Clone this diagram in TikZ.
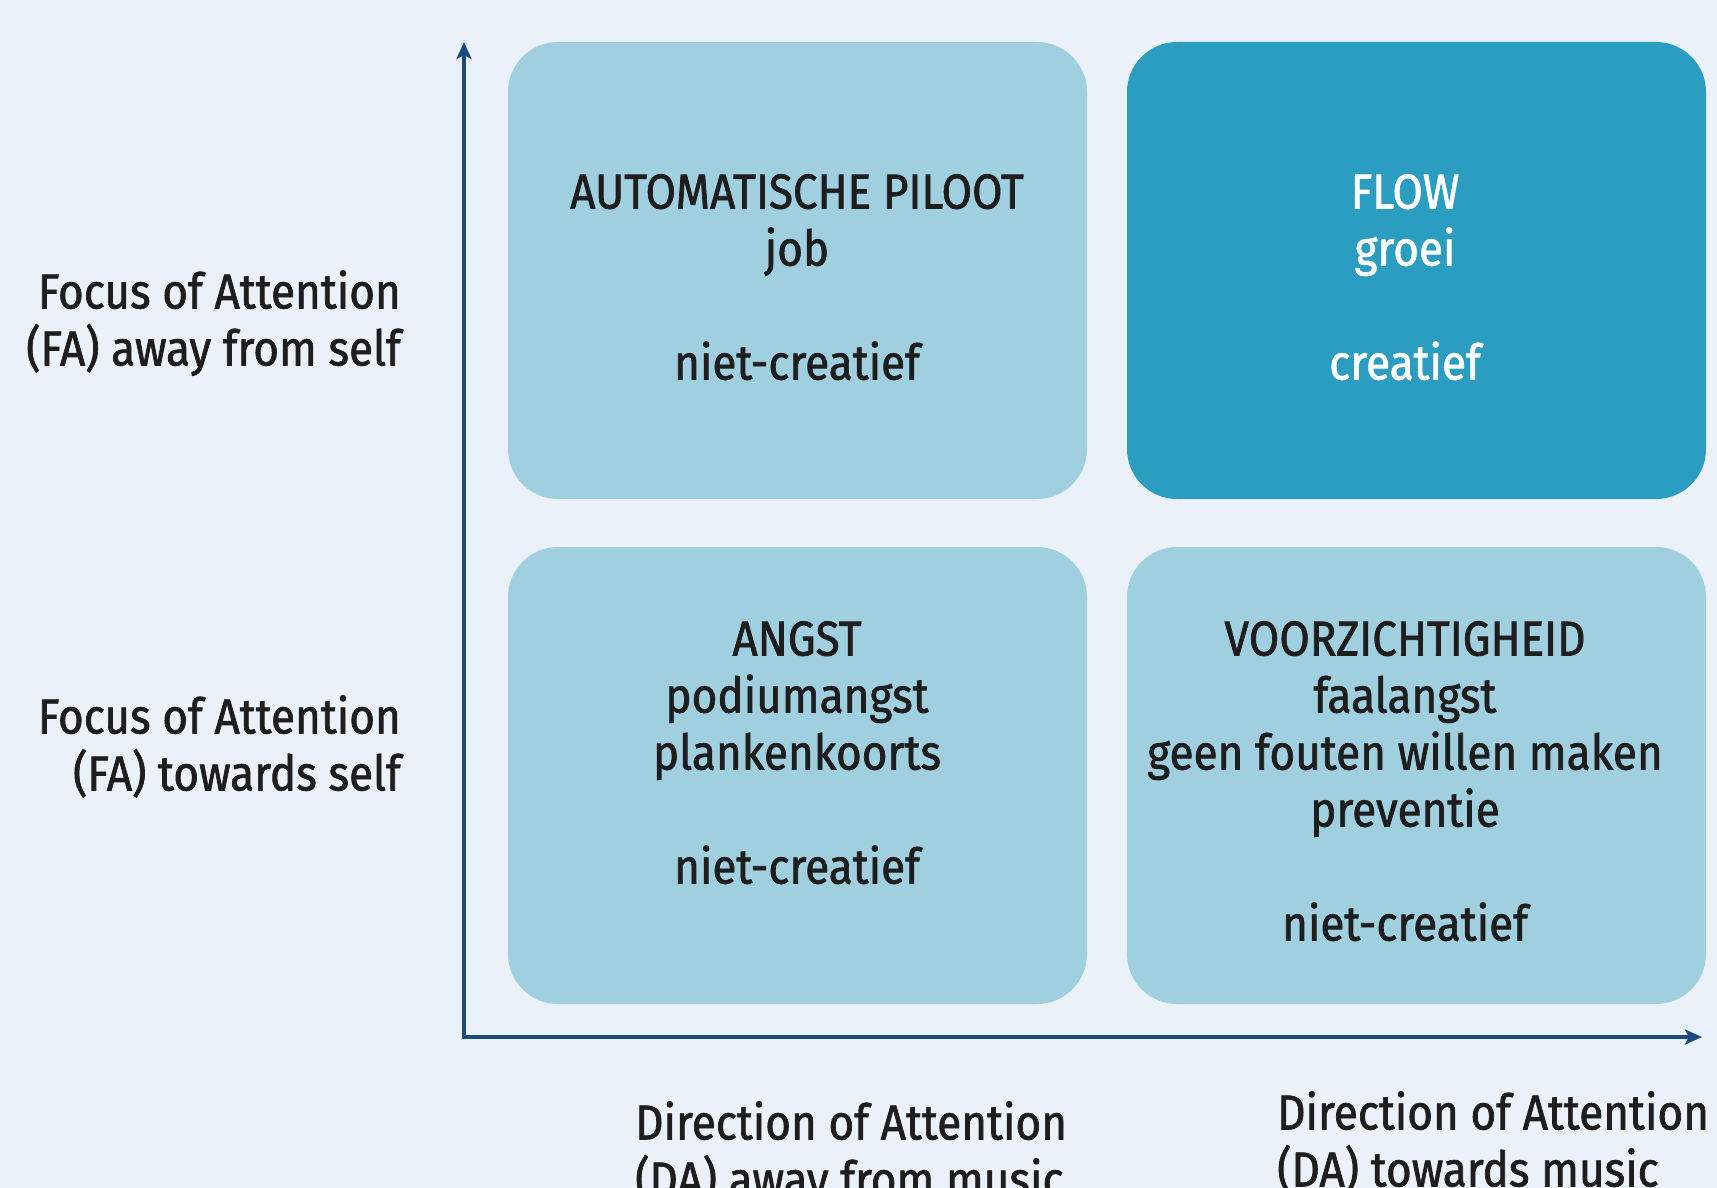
\documentclass[tikz,border=0pt]{standalone}
\usepackage{fontspec}
\setmainfont{Fira Sans}[FakeStretch=0.9, FakeBold=1.4]
\usetikzlibrary{arrows.meta}
\definecolor{bgcol}{HTML}{EAF1F8}
\definecolor{lightcol}{HTML}{A0CFE0}
\definecolor{darkcol}{HTML}{2A9DC0}
\definecolor{axiscol}{HTML}{1A4A80}
\definecolor{txtcol}{HTML}{1E1E1E}
\tikzset{
  quadbox/.style={minimum width=579pt, minimum height=457pt, rounded corners=50pt, inner sep=0pt, draw=none},
  lightbox/.style={quadbox, fill=lightcol},
  darkbox/.style={quadbox, fill=darkcol},
  boxtext/.style={font=\fontsize{49}{57}\selectfont, text=txtcol, align=center, inner sep=0pt, anchor=north},
  sidelabel/.style={font=\fontsize{49}{57}\selectfont, text=txtcol, inner sep=0pt},
  axisline/.style={draw=axiscol, line width=3.5pt, -{Stealth[length=17pt, width=15pt, inset=4pt]}}
}
\begin{document}
\begin{tikzpicture}[x=1pt, y=-1pt]
\fill[bgcol] (0,0) rectangle (1717,1188);
\useasboundingbox (0,0) rectangle (1717,1188);

\node[lightbox] (tl) at (797.5,270.5) {};
\node[darkbox]  (tr) at (1416.5,270.5) {};
\node[lightbox] (bl) at (797.5,775.5) {};
\node[lightbox] (br) at (1416.5,775.5) {};

\node[boxtext] (tltext) at (797,174) {AUTOMATISCHE PILOOT\\job\\[57pt]niet-creatief};
\node[boxtext, text=white] (trtext) at (1405,174) {FLOW\\groei\\[57pt]creatief};
\node[boxtext] (bltext) at (797,621) {ANGST\\podiumangst\\plankenkoorts\\[57pt]niet-creatief};
\node[boxtext] (brtext) at (1405,621) {VOORZICHTIGHEID\\faalangst\\geen fouten willen maken\\preventie\\[57pt]niet-creatief};

\node[sidelabel, anchor=north east, align=right] (fa1) at (401,270) {Focus of Attention\\(FA) away from self};
\node[sidelabel, anchor=north east, align=right] (fa2) at (401,695) {Focus of Attention\\(FA) towards self};
\node[sidelabel, anchor=north west, align=left] (da1) at (635,1101) {Direction of Attention\\(DA) away from music};
\node[sidelabel, anchor=north west, align=left] (da2) at (1277,1091) {Direction of Attention\\(DA) towards music};

\coordinate (origin) at (464,1037);
\coordinate (ytip) at (464,42);
\coordinate (xtip) at (1702,1037);
\draw[axisline] ([yshift=1.75pt]origin) -- (ytip);
\draw[axisline] ([xshift=-1.75pt]origin) -- (xtip);
\end{tikzpicture}
\end{document}
